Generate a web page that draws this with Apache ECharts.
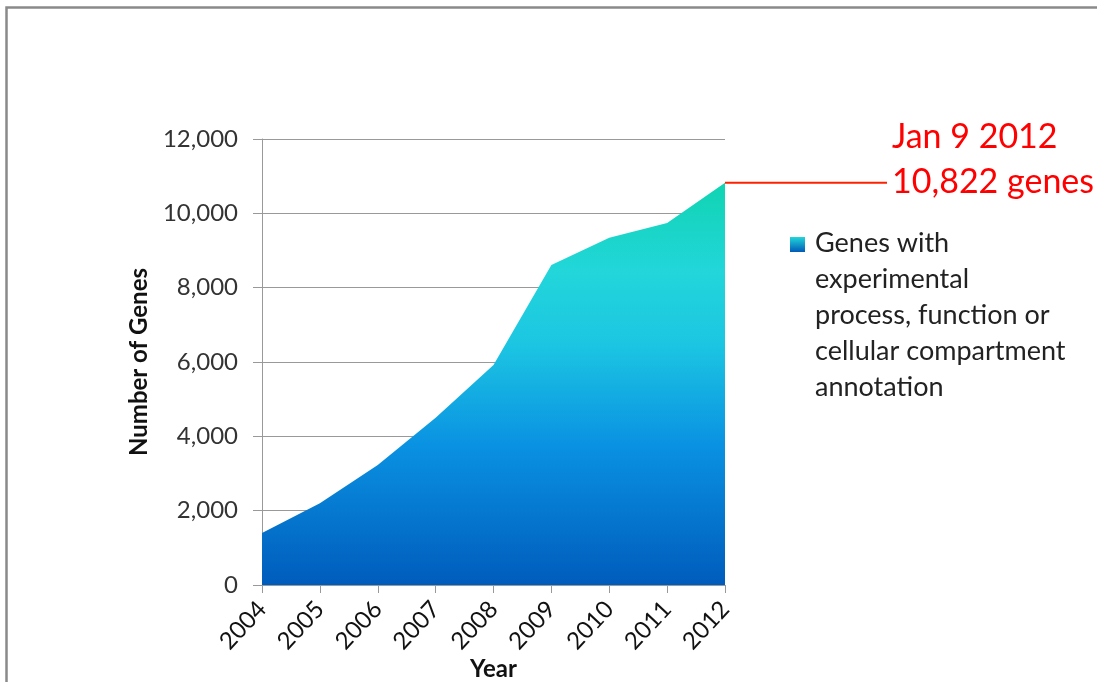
<!DOCTYPE html>
<html>
<head>
<meta charset="utf-8">
<script src="https://cdn.jsdelivr.net/npm/echarts@6/dist/echarts.min.js"></script>
<style>html,body{margin:0;padding:0;background:#fff}#c{width:1097px;height:682px}</style>
</head>
<body>
<div id="c"></div>
<script>
const years = ['2004','2005','2006','2007','2008','2009','2010','2011','2012'];
const genes = [1400, 2200, 3230, 4500, 5920, 8610, 9340, 9740, 10822];
const yTicks = [0, 2000, 4000, 6000, 8000, 10000, 12000];
const seriesName = 'Genes with\nexperimental\nprocess, function or\ncellular compartment\nannotation';
const noteLines = ['Jan 9 2012', '10,822 genes'];

const FONT = 'Lato';
const chart = echarts.init(document.getElementById('c'));
const grad = new echarts.graphic.LinearGradient(0, 0, 0, 1, [
  {offset: 0, color: '#10D4B2'},
  {offset: 0.22, color: '#22D6DA'},
  {offset: 0.4, color: '#1CC6E2'},
  {offset: 0.65, color: '#0A92E2'},
  {offset: 1, color: '#005CBC'}
]);
const option = {
  animation: false,
  grid: {left: 262, right: 372, top: 139, bottom: 97, outerBoundsMode: 'none', containLabel: false},
  xAxis: {
    type: 'category', data: years, boundaryGap: false,
    name: 'Year', nameLocation: 'middle', nameGap: 72, nameMoveOverlap: false,
    nameTextStyle: {fontFamily: FONT, fontSize: 24, fontWeight: 'bold', color: '#111'},
    axisLine: {lineStyle: {color: '#999', width: 1}},
    axisTick: {show: true, length: 8, lineStyle: {color: '#999'}},
    axisLabel: {rotate: 47, margin: 20, fontFamily: FONT, fontSize: 24, color: '#111', interval: 0},
    splitLine: {show: false}
  },
  yAxis: {
    type: 'value', min: yTicks[0], max: yTicks[yTicks.length - 1], interval: 2000,
    name: 'Number of Genes', nameLocation: 'middle', nameGap: 111, nameRotate: 90, nameMoveOverlap: false,
    nameTextStyle: {fontFamily: FONT, fontSize: 24, fontWeight: 'bold', color: '#111'},
    axisLine: {show: true, lineStyle: {color: '#999', width: 1}},
    axisTick: {show: true, length: 9, lineStyle: {color: '#999'}},
    axisLabel: {margin: 24, fontFamily: FONT, fontSize: 24, color: '#333',
      formatter: v => v.toLocaleString('en-US')},
    splitLine: {lineStyle: {color: '#999', width: 1}}
  },
  series: [{
    name: seriesName, type: 'line', data: genes, symbol: 'none',
    lineStyle: {width: 0}, areaStyle: {color: grad, opacity: 1}, z: 3
  }]
};
chart.setOption(option);

const last = genes.length - 1;
const p = chart.convertToPixel({gridIndex: 0}, [years[last], genes[last]]);
chart.setOption({
  graphic: [
    {type: 'rect', left: 4, top: 5, shape: {x: 0, y: 0, width: 1200, height: 800},
      style: {fill: 'none', stroke: '#8a8a8a', lineWidth: 2.5}, silent: true, z: 0},
    {type: 'line', shape: {x1: p[0], y1: p[1], x2: p[0] + 162, y2: p[1]},
      style: {stroke: '#FF2000', lineWidth: 2}, z: 10},
    {type: 'text', x: p[0] + 167, y: p[1] - 46, style: {text: noteLines[0], fill: '#FF0000',
      font: '34px ' + FONT, verticalAlign: 'middle', align: 'left'}},
    {type: 'text', x: p[0] + 167, y: p[1] - 1, style: {text: noteLines[1], fill: '#FF0000',
      font: '34px ' + FONT, verticalAlign: 'middle', align: 'left'}},
    {type: 'rect', shape: {x: 790, y: 237, width: 15, height: 15},
      style: {fill: new echarts.graphic.LinearGradient(0, 0, 0, 1, [
        {offset: 0, color: '#22D6DA'}, {offset: 1, color: '#005AB8'}])}},
    {type: 'text', x: 815, y: 225, style: {text: seriesName, fill: '#222',
      font: '27px ' + FONT, lineHeight: 36, align: 'left', verticalAlign: 'top'}}
  ]
});
</script>
</body>
</html>
